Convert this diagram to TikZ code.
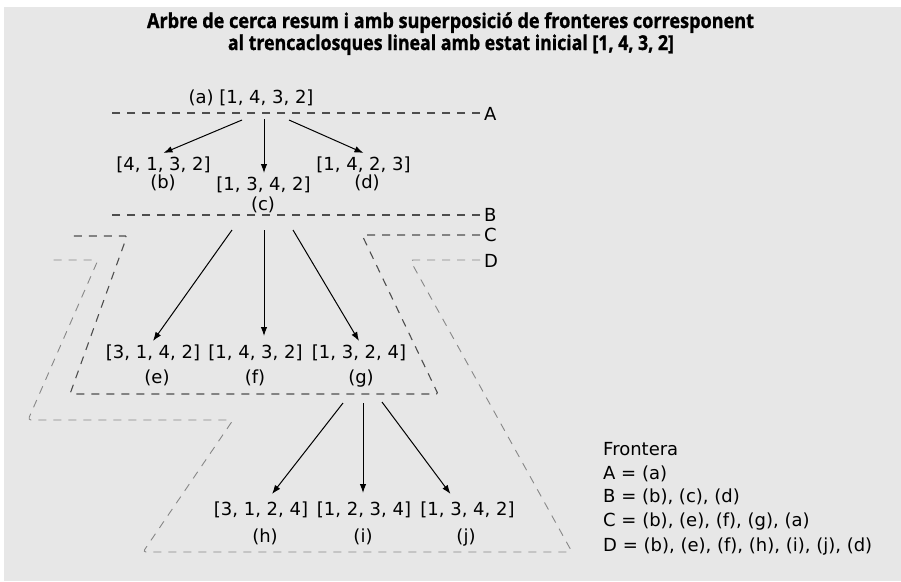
\documentclass[tikz,border=0pt]{standalone}
\usepackage{fontspec}
\usepackage{graphicx}
\setmainfont{DejaVu Sans}
\newfontfamily\titlefont{Open Sans}[BoldFeatures={FakeBold=1.2}]
\usetikzlibrary{arrows.meta,calc}
\definecolor{bg}{RGB}{231,231,231}
\definecolor{frontc}{RGB}{78,78,78}
\definecolor{frontd}{RGB}{135,135,135}
\newlength\fitw
\newcommand\fitline[2]{\settowidth\fitw{#2}\scalebox{\fpeval{#1/(\the\fitw)}}[1]{#2}}
\begin{document}
\begin{tikzpicture}[x=1pt,y=-1pt,
  txt/.style={font=\fontsize{18}{22}\selectfont, inner sep=0pt, text height=13pt, text depth=4pt},
  st/.style={txt, outer sep=4.5pt},
  lab/.style={font=\fontsize{18}{22}\selectfont, inner sep=0pt, text height=13pt, text depth=0pt, anchor=west},
  arr/.style={-{Latex[length=9pt,width=6.5pt]}, line width=1pt, black},
  frontC/.style={frontc, line width=1.1pt, dash pattern=on 8pt off 7pt, rounded corners=1.5pt},
  frontD/.style={frontd, line width=0.9pt, dash pattern=on 8pt off 7pt, rounded corners=3pt},
  ttl/.style={anchor=base, inner sep=0pt, font=\titlefont\bfseries\fontsize{20.5}{22}\selectfont}]
\useasboundingbox (0,0) rectangle (901,581);
\fill[bg] (4,7) rectangle (901,581);

% title
\node[ttl] (t1) at (450.5,28) {\fitline{607}{Arbre de cerca resum i amb superposició de fronteres corresponent}};
\node[ttl] (t2) at (451,50) {\fitline{446}{al trencaclosques lineal amb estat inicial [1, 4, 3, 2]}};

% frontiers
\draw[frontC] (480,113) -- (108,113);
\node[lab] (fA) at (484,114) {A};
\draw[frontC] (480,215) -- (108,215);
\node[lab] (fB) at (484,215) {B};
\draw[frontC] (480,235) -- (362,235) -- (438,394) -- (70,394) -- (127,236) -- (68,236);
\node[lab] (fC) at (484,235) {C};
\draw[frontD] (480,260) -- (410,260) -- (572,552) -- (143,552) -- (233,420) -- (28,420) -- (98,260) -- (48,260);
\node[lab] (fD) at (484,261) {D};

% tree nodes
\node[txt] (a) at (251,99) {(a) [1, 4, 3, 2]};
\node[st] (b) at (163.5,166) {[4, 1, 3, 2]};
\node[txt] (bl) at (163,184) {(b)};
\node[st] (c) at (263.5,186) {[1, 3, 4, 2]};
\node[txt] (cl) at (263,206) {(c)};
\node[st] (d) at (363.5,166) {[1, 4, 2, 3]};
\node[txt] (dl) at (367,184) {(d)};
\node[st] (e) at (153,354) {[3, 1, 4, 2]};
\node[txt] (el) at (157,379) {(e)};
\node[st] (f) at (255.5,354) {[1, 4, 3, 2]};
\node[txt] (fl) at (255,379) {(f)};
\node[st] (g) at (359,354) {[1, 3, 2, 4]};
\node[txt] (gl) at (361,379) {(g)};
\node[st] (h) at (261,511) {[3, 1, 2, 4]};
\node[txt] (hl) at (265,538) {(h)};
\node[st] (i) at (364,511) {[1, 2, 3, 4]};
\node[txt] (il) at (363,538) {(i)};
\node[st] (j) at (467.5,511) {[1, 3, 4, 2]};
\node[txt] (jl) at (466,538) {(j)};

% arrow start points
\coordinate (a1) at (242,120);
\coordinate (a2) at (264,119);
\coordinate (a3) at (289,120);
\coordinate (c1) at (232,230);
\coordinate (c2) at (264,230);
\coordinate (c3) at (293,230);
\coordinate (g1) at (343,403);
\coordinate (g2) at (363,403);
\coordinate (g3) at (382,402);

\draw[arr] (a1) -- (b.north);
\draw[arr] (a2) -- (a2 |- c.north);
\draw[arr] (a3) -- (d.north);
\draw[arr] (c1) -- (e.north);
\draw[arr] (c2) -- ($(c2 |- f.north)+(0,-5)$);
\draw[arr] (c3) -- (g.north);
\draw[arr] (g1) -- ($(h.north)+(11,-4)$);
\draw[arr] (g2) -- ($(g2 |- i.north)+(0,-5)$);
\draw[arr] (g3) -- ($(j.north)+(-17,-4)$);

% legend
\node[txt,anchor=west] (lg0) at (603,451) {Frontera};
\node[txt,anchor=west] (lg1) at (603,475) {A = (a)};
\node[txt,anchor=west] (lg2) at (603,498) {B = (b), (c), (d)};
\node[txt,anchor=west] (lg3) at (603,522) {C = (b), (e), (f), (g), (a)};
\node[txt,anchor=west] (lg4) at (603,547) {D = (b), (e), (f), (h), (i), (j), (d)};
\end{tikzpicture}
\end{document}
